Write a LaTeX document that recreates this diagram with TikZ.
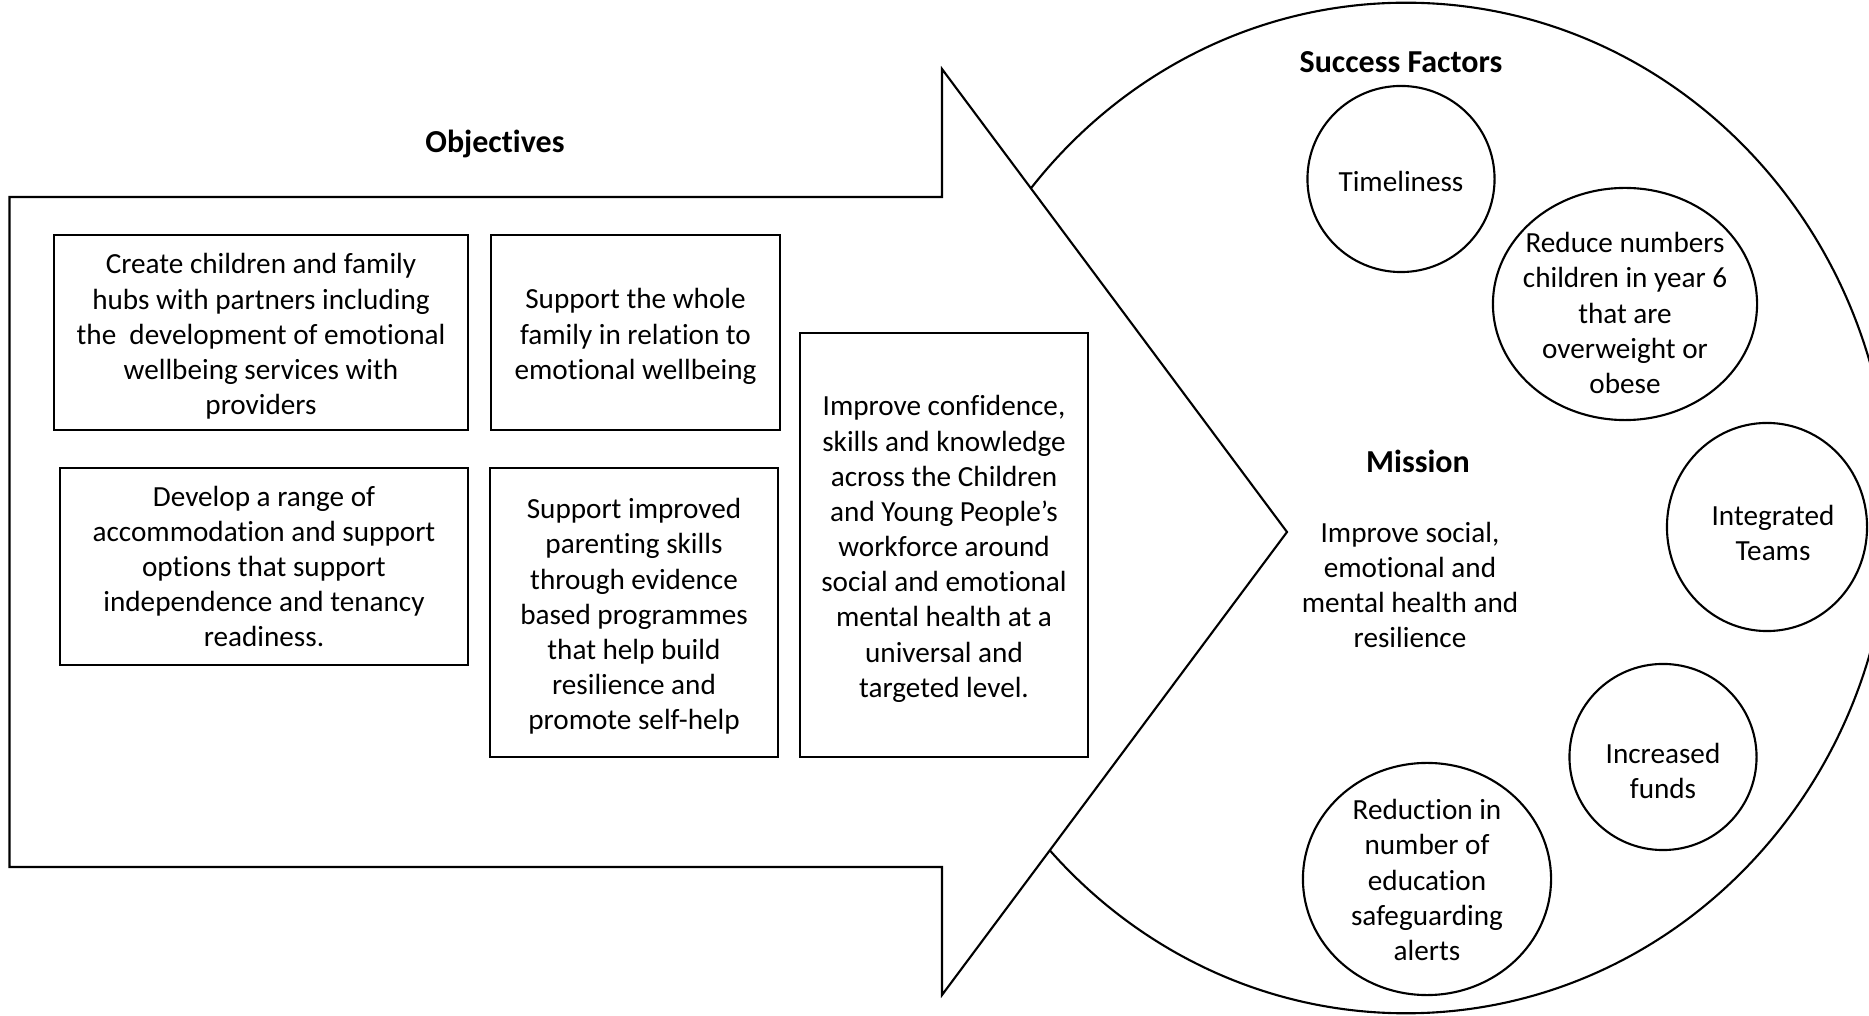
\documentclass[tikz,border=0pt]{standalone}
\usepackage{fontspec}
\setmainfont{Carlito}[Ligatures={NoCommon}]
\usetikzlibrary{shapes.geometric}
\newcommand\bodyfont{\fontsize{8.3}{10}\selectfont}
\newcommand\titlefont{\fontsize{9.1}{11}\selectfont\bfseries}
\tikzset{
  ln/.style={line width=0.6pt},
  objbox/.style={draw, ln, rectangle, inner sep=0pt},
  txt/.style={align=center, font=\bodyfont, inner sep=0pt},
  ttl/.style={font=\titlefont, inner sep=0pt},
  sfc/.style={draw, ln, ellipse, inner sep=0pt},
}
\begin{document}
\begin{tikzpicture}[x=0.01cm, y=-0.01cm]
\useasboundingbox (0,0) rectangle (1869,1016);
\clip (0,0) rectangle (1869,1016);
% big ellipse
\draw[ln, fill=white] (1406,508) ellipse [x radius=4.84cm, y radius=5.05cm];
% arrow
\draw[ln, fill=white, line join=miter] (9.5,197) -- (942,197) -- (942,69) -- (1287,532) -- (942,995) -- (942,867) -- (9.5,867) -- cycle;
% titles
\node[ttl] (obj) at (495,143.5) {Objectives};
\node[ttl] (sf) at (1401,62) {Success Factors};
\node[ttl] (mis) at (1418,461) {Mission};
\node[txt] (mist) at (1410,585) {Improve social,\\emotional and\\mental health and\\resilience};
% objective boxes
\node[objbox, minimum width=4.14cm, minimum height=1.95cm] (b1) at (261,332.5) {};
\node[txt] (tb1) at (261,336.5)
  {Create children and family\\hubs with partners including\\the~ development of emotional\\wellbeing services with\\providers};
\node[objbox, minimum width=2.89cm, minimum height=1.95cm] (b2) at (635.5,332.5) {};
\node[txt] (tb2) at (635.5,336.5)
  {Support the whole\\family in relation to\\emotional wellbeing};
\node[objbox, minimum width=4.08cm, minimum height=1.97cm] (b3) at (264,566.5) {};
\node[txt] (tb3) at (264,566.5)
  {Develop a range of\\accommodation and support\\options that support\\independence and tenancy\\readiness.};
\node[objbox, minimum width=2.88cm, minimum height=2.89cm] (b4) at (634,612.5) {};
\node[txt] (tb4) at (634,616.5)
  {Support improved\\parenting skills\\through evidence\\based programmes\\that help build\\resilience and\\promote self-help};
\node[objbox, minimum width=2.88cm, minimum height=4.24cm] (b5) at (944,545) {};
\node[txt] (tb5) at (944,549)
  {Improve confidence,\\skills and knowledge\\across the Children\\and Young People’s\\workforce around\\social and emotional\\mental health at a\\universal and\\targeted level.};
% success factor circles
\node[sfc, minimum width=1.87cm, minimum height=1.86cm] (c1) at (1401,179) {};
\node[txt] (t1) at (1401,181.5) {Timeliness};
\node[sfc, minimum width=2.64cm, minimum height=2.32cm] (c2) at (1625,304) {};
\node[txt] (t2) at (1625,313) {Reduce numbers\\children in year 6\\that are\\overweight or\\obese};
\node[sfc, minimum width=2.00cm, minimum height=2.08cm] (c3) at (1767,527) {};
\node[txt] (t3) at (1773,533) {Integrated\\Teams};
\node[sfc, minimum width=1.87cm, minimum height=1.86cm] (c4) at (1663,757) {};
\node[txt] (t4) at (1663,771) {Increased\\funds};
\node[sfc, minimum width=2.48cm, minimum height=2.32cm] (c5) at (1427,879) {};
\node[txt] (t5) at (1427,880) {Reduction in\\number of\\education\\safeguarding\\alerts};
\end{tikzpicture}
\end{document}
